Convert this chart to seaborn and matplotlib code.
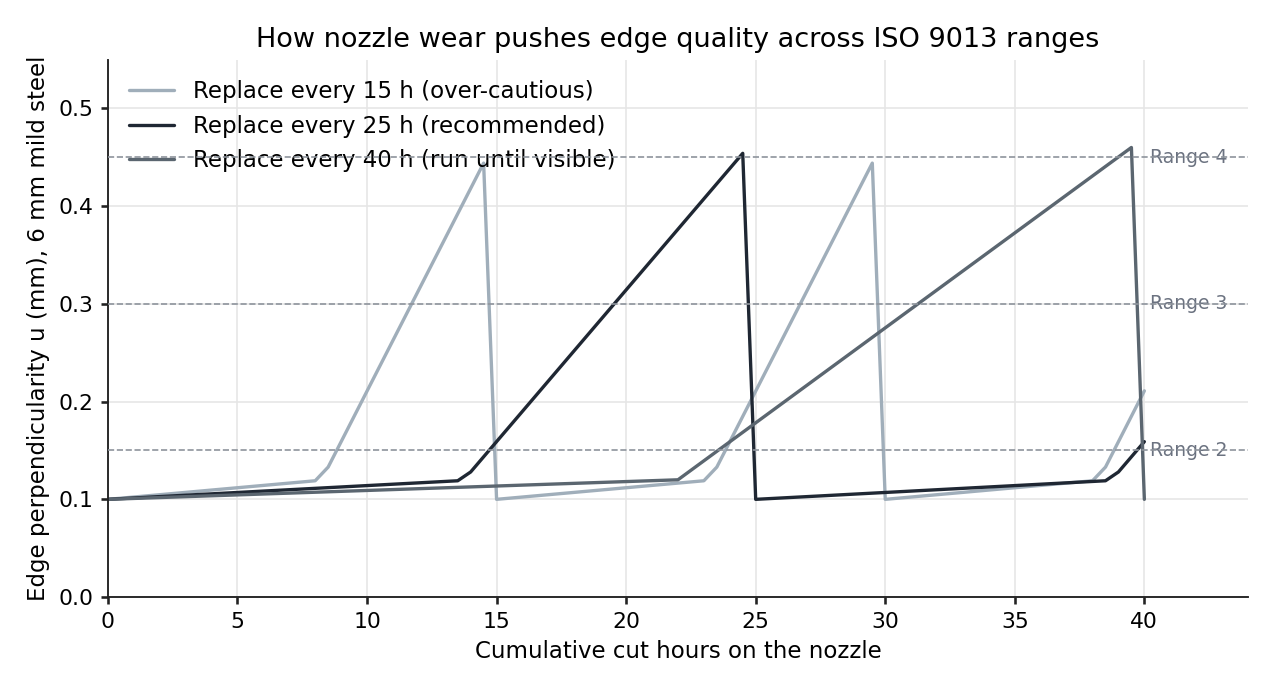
import matplotlib
matplotlib.use("Agg")
import matplotlib.pyplot as plt
import seaborn as sns
import pandas as pd

# knot points (hours, perpendicularity in mm)
hours_15 = [0, 8, 8.5, 14.5, 15, 23, 23.5, 29.5, 30, 38, 38.5, 40]
u_15 = [0.100, 0.119, 0.133, 0.444, 0.100, 0.119, 0.133, 0.444, 0.100, 0.119, 0.133, 0.211]

hours_25 = [0, 13.5, 14, 24.5, 25, 38.5, 39, 40]
u_25 = [0.100, 0.119, 0.128, 0.454, 0.100, 0.119, 0.128, 0.159]

hours_40 = [0, 22, 39.5, 40]
u_40 = [0.100, 0.120, 0.460, 0.100]

series_labels = [
    "Replace every 15 h (over-cautious)",
    "Replace every 25 h (recommended)",
    "Replace every 40 h (run until visible)",
]
series_colors = ["#a0aeba", "#1f2733", "#5b6670"]

range_names = ["Range 2", "Range 3", "Range 4"]
range_limits = [0.15, 0.30, 0.45]

frames = []
for lab, h, u in zip(series_labels, [hours_15, hours_25, hours_40], [u_15, u_25, u_40]):
    frames.append(pd.DataFrame({"hours": h, "u": u, "strategy": lab}))
df = pd.concat(frames, ignore_index=True)

sns.set_theme(style="whitegrid")
plt.rcParams["font.family"] = ["DejaVu Sans"]
plt.rcParams.update({
    "text.color": "black",
    "axes.labelcolor": "black",
    "xtick.color": "black",
    "ytick.color": "black",
})

fig, ax = plt.subplots(figsize=(8.5, 4.6), dpi=150)
sns.lineplot(data=df, x="hours", y="u", hue="strategy", hue_order=series_labels,
             palette=series_colors, sort=False, estimator=None, linewidth=1.6, ax=ax)

for name, lim in zip(range_names, range_limits):
    ax.axhline(lim, color="#8e949c", linestyle="--", linewidth=0.8, zorder=6)
    ax.text(40.2, lim, name, color="#6b7280", fontsize=9, va="center", ha="left")

ax.set_xlim(0, 44)
ax.set_ylim(0, 0.55)
ax.set_xticks(range(0, 41, 5))
ax.set_yticks([0.0, 0.1, 0.2, 0.3, 0.4, 0.5])
ax.set_xlabel("Cumulative cut hours on the nozzle", fontsize=11)
ax.set_ylabel("Edge perpendicularity u (mm), 6 mm mild steel", fontsize=11)
ax.set_title("How nozzle wear pushes edge quality across ISO 9013 ranges", fontsize=13)
ax.tick_params(labelsize=10.5, length=3.5, color="#222222", left=True, bottom=True)
ax.grid(color="#e6e6e6", linewidth=0.8)
for side in ["top", "right"]:
    ax.spines[side].set_visible(False)
for side in ["left", "bottom"]:
    ax.spines[side].set_color("#222222")
    ax.spines[side].set_linewidth(0.9)

leg = ax.legend(loc="upper left", frameon=False, fontsize=11, title=None)

fig.tight_layout()
fig.savefig("out.png", dpi=150)
